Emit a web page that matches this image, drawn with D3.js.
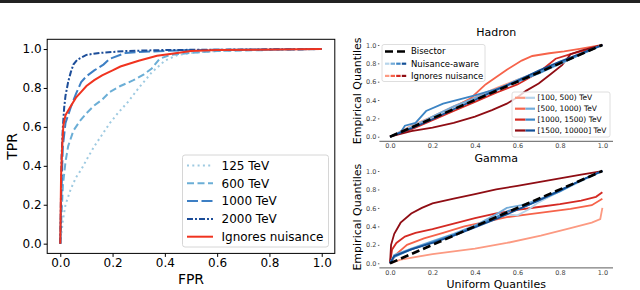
<!DOCTYPE html>
<html>
<head>
<meta charset="utf-8">
<script src="https://cdn.jsdelivr.net/npm/d3@7"></script>
<style>
  body { margin: 0; background: #fff; }
  svg { font-family: "DejaVu Sans", sans-serif; }
</style>
</head>
<body>
<svg class="graph"></svg>
<script>
// ROC curves, [FPR, TPR]
const roc125 = [[0,0],[0.01,0.12],[0.02,0.2],[0.04,0.28],[0.06,0.34],[0.08,0.38],[0.1,0.43],[0.13,0.5],[0.16,0.56],[0.19,0.62],[0.22,0.67],[0.26,0.73],[0.3,0.8],[0.35,0.88],[0.4,0.94],[0.45,0.97],[0.5,0.98],[0.6,0.99],[0.7,0.995],[1,1]];
const roc600 = [[0,0],[0.005,0.15],[0.01,0.3],[0.02,0.42],[0.03,0.5],[0.05,0.58],[0.075,0.63],[0.1,0.67],[0.13,0.71],[0.16,0.74],[0.19,0.78],[0.23,0.81],[0.28,0.84],[0.32,0.87],[0.35,0.9],[0.38,0.95],[0.42,0.97],[0.5,0.98],[0.6,0.99],[1,1]];
const roc1000 = [[0,0],[0.005,0.3],[0.01,0.5],[0.02,0.62],[0.04,0.7],[0.06,0.77],[0.08,0.83],[0.1,0.86],[0.13,0.89],[0.165,0.92],[0.19,0.95],[0.25,0.98],[0.3,0.985],[0.4,0.99],[0.5,0.995],[1,1]];
const roc2000 = [[0,0],[0.005,0.45],[0.01,0.6],[0.015,0.7],[0.02,0.76],[0.03,0.83],[0.04,0.88],[0.05,0.92],[0.065,0.945],[0.1,0.97],[0.15,0.98],[0.25,0.99],[0.4,0.995],[1,1]];
const rocIgnore = [[0,0],[0.003,0.35],[0.008,0.52],[0.012,0.61],[0.02,0.66],[0.037,0.7],[0.06,0.75],[0.08,0.78],[0.1,0.81],[0.13,0.84],[0.16,0.865],[0.2,0.89],[0.23,0.91],[0.3,0.94],[0.37,0.965],[0.42,0.975],[0.5,0.99],[0.6,0.995],[1,1]];

const rocNames = ['125 TeV', '600 TeV', '1000 TeV', '2000 TeV', 'Ignores nuisance'];
const rocTicks = [0, 0.2, 0.4, 0.6, 0.8, 1.0];

// QQ curves, [uniform quantile, empirical quantile]
const binNames = ['[100, 500) TeV', '[500, 1000) TeV', '[1000, 1500) TeV', '[1500, 10000] TeV'];

const hadronRed = [
  [[0,0],[0.1,0.12],[0.2,0.22],[0.3,0.33],[0.4,0.43],[0.5,0.53],[0.6,0.62],[0.7,0.71],[0.8,0.8],[0.9,0.9],[1,1]],
  [[0,0],[0.1,0.1],[0.2,0.2],[0.3,0.32],[0.38,0.42],[0.45,0.57],[0.55,0.73],[0.62,0.83],[0.67,0.88],[0.75,0.91],[0.82,0.93],[0.9,0.96],[1,1]],
  [[0,0],[0.1,0.08],[0.2,0.18],[0.3,0.28],[0.4,0.38],[0.5,0.48],[0.6,0.57],[0.7,0.7],[0.78,0.85],[0.85,0.9],[0.93,0.95],[1,1]],
  [[0,0],[0.05,0.03],[0.1,0.06],[0.2,0.1],[0.3,0.15],[0.4,0.22],[0.48,0.29],[0.55,0.36],[0.6,0.43],[0.64,0.5],[0.7,0.58],[0.75,0.67],[0.81,0.78],[0.85,0.9],[0.9,0.94],[1,1]]
];
const hadronBlue = [
  [[0,0],[0.1,0.11],[0.2,0.21],[0.3,0.31],[0.4,0.41],[0.5,0.5],[0.6,0.6],[0.7,0.69],[0.8,0.79],[0.9,0.9],[1,1]],
  [[0,0],[0.1,0.1],[0.2,0.22],[0.3,0.33],[0.4,0.42],[0.5,0.51],[0.6,0.62],[0.7,0.71],[0.8,0.8],[0.9,0.9],[1,1]],
  [[0,0],[0.05,0.05],[0.07,0.12],[0.12,0.15],[0.17,0.28],[0.25,0.36],[0.3,0.39],[0.4,0.45],[0.5,0.52],[0.6,0.6],[0.7,0.69],[0.8,0.8],[0.9,0.9],[1,1]],
  [[0,0],[0.1,0.09],[0.2,0.19],[0.3,0.3],[0.4,0.4],[0.5,0.51],[0.6,0.61],[0.7,0.72],[0.8,0.82],[0.9,0.91],[1,1]]
];
const gammaRed = [
  [[0,0],[0.05,0.04],[0.2,0.1],[0.4,0.16],[0.55,0.22],[0.71,0.3],[0.85,0.38],[0.95,0.44],[0.99,0.48],[1,0.6]],
  [[0,0],[0.03,0.1],[0.08,0.2],[0.16,0.27],[0.25,0.33],[0.35,0.4],[0.45,0.45],[0.55,0.5],[0.65,0.53],[0.75,0.56],[0.85,0.59],[0.95,0.63],[1,0.7]],
  [[0,0],[0.01,0.15],[0.03,0.22],[0.07,0.29],[0.12,0.33],[0.2,0.37],[0.3,0.43],[0.4,0.49],[0.5,0.54],[0.6,0.58],[0.7,0.61],[0.8,0.64],[0.9,0.68],[0.97,0.72],[1,0.77]],
  [[0,0],[0.005,0.2],[0.02,0.32],[0.05,0.44],[0.1,0.54],[0.15,0.6],[0.2,0.65],[0.3,0.7],[0.4,0.75],[0.5,0.8],[0.6,0.84],[0.7,0.88],[0.8,0.92],[0.9,0.96],[1,1]]
];
const gammaBlue = [
  [[0,0],[0.02,0.08],[0.1,0.15],[0.2,0.23],[0.3,0.31],[0.4,0.4],[0.5,0.5],[0.55,0.53],[0.6,0.52],[0.65,0.58],[0.7,0.66],[0.8,0.78],[0.9,0.89],[1,1]],
  [[0,0],[0.02,0.09],[0.1,0.16],[0.2,0.24],[0.3,0.32],[0.4,0.41],[0.5,0.53],[0.55,0.6],[0.62,0.63],[0.7,0.69],[0.8,0.79],[0.9,0.9],[1,1]],
  [[0,0],[0.02,0.07],[0.1,0.15],[0.2,0.23],[0.3,0.31],[0.4,0.4],[0.5,0.5],[0.56,0.57],[0.62,0.6],[0.7,0.68],[0.8,0.78],[0.9,0.9],[1,1]],
  [[0,0],[0.02,0.08],[0.1,0.15],[0.2,0.22],[0.3,0.3],[0.4,0.39],[0.5,0.48],[0.6,0.58],[0.7,0.68],[0.8,0.79],[0.9,0.9],[1,1]]
];
const qqTicks = [0, 0.2, 0.4, 0.6, 0.8, 1.0];
const bisector = [[0,0],[1,1]];

const rocColors = ['#9ecae1', '#6baed6', '#3d7fc4', '#1c4d99', '#f0331f'];
const rocDash = ['2,3.3', '7,3.5', '11,3.5', '6,2,2,2', null];
const redColors = ['#fc9a82', '#f6634a', '#d42a23', '#8f0d14'];
const blueColors = ['#b6d4ea', '#73abd8', '#3c84c4', '#134f96'];

const width = 640;
const height = 290;
const svg = d3.select('.graph').attr('width', width).attr('height', height);

// black rule at the very top of the figure
svg.append('rect').attr('x', 0).attr('y', 0).attr('width', width).attr('height', 3).attr('fill', '#222');

// ---------- left ROC panel ----------
const x = d3.scaleLinear().domain([-0.05, 1.05]).range([47.2, 334.8]);
const y = d3.scaleLinear().domain([-0.05, 1.05]).range([253.4, 39.3]);
const line = d3.line().x(d => x(d[0])).y(d => y(d[1]));

const left = svg.append('g');
[roc125, roc600, roc1000, roc2000, rocIgnore].forEach((data, i) => {
  left.append('path')
    .attr('d', line(data))
    .attr('fill', 'none')
    .attr('stroke', rocColors[i])
    .attr('stroke-width', 2)
    .attr('stroke-dasharray', rocDash[i]);
});

left.append('rect')
  .attr('x', x(-0.05)).attr('y', y(1.05))
  .attr('width', x(1.05) - x(-0.05)).attr('height', y(-0.05) - y(1.05))
  .attr('fill', 'none').attr('stroke', '#000').attr('stroke-width', 1);

const xAxis = left.append('g')
  .attr('transform', `translate(0,${y(-0.05)})`)
  .call(d3.axisBottom(x).tickValues(rocTicks).tickFormat(d3.format('.1f')).tickSize(3.5).tickPadding(2));
const yAxis = left.append('g')
  .attr('transform', `translate(${x(-0.05)},0)`)
  .call(d3.axisLeft(y).tickValues(rocTicks).tickFormat(d3.format('.1f')).tickSize(3.5).tickPadding(2));
[xAxis, yAxis].forEach(a => {
  a.select('.domain').remove();
  a.selectAll('text').attr('font-size', 12).attr('fill', '#000').attr('font-family', 'DejaVu Sans');
  a.selectAll('line').attr('stroke', '#000');
});

left.append('text').text('FPR')
  .attr('x', x(0.5)).attr('y', 284).attr('text-anchor', 'middle').attr('font-size', 14);
left.append('text').text('TPR')
  .attr('transform', `translate(17,${y(0.5)}) rotate(-90)`)
  .attr('text-anchor', 'middle').attr('font-size', 14);

// legend
const lg = left.append('g');
lg.append('rect').attr('x', 182.5).attr('y', 155).attr('width', 146).attr('height', 92)
  .attr('rx', 2.5).attr('fill', '#fff').attr('fill-opacity', 0.85).attr('stroke', '#d6d6d6');
rocNames.forEach((name, i) => {
  const yy = 165.5 + i * 17.8;
  lg.append('line').attr('x1', 187).attr('x2', 213).attr('y1', yy).attr('y2', yy)
    .attr('stroke', rocColors[i]).attr('stroke-width', 2).attr('stroke-dasharray', rocDash[i]);
  lg.append('text').text(name).attr('x', 221.5).attr('y', yy).attr('dy', '0.35em').attr('font-size', 12);
});

// ---------- right QQ panels ----------
const qx = d3.scaleLinear().domain([-0.05, 1.05]).range([379.4, 613]);

function qqPanel(reds, blues, title, top, bottom, showXLabel) {
  const qy = d3.scaleLinear().domain([-0.05, 1.05]).range([bottom, top]);
  const qline = d3.line().x(d => qx(d[0])).y(d => qy(d[1]));
  const g = svg.append('g');

  reds.forEach((data, i) => {
    g.append('path').attr('d', qline(data)).attr('fill', 'none')
      .attr('stroke', redColors[i]).attr('stroke-width', 1.8);
  });
  blues.forEach((data, i) => {
    g.append('path').attr('d', qline(data)).attr('fill', 'none')
      .attr('stroke', blueColors[i]).attr('stroke-width', 1.8);
  });
  g.append('path').attr('d', qline(bisector)).attr('fill', 'none')
    .attr('stroke', '#000').attr('stroke-width', 2.6).attr('stroke-dasharray', '8,4');

  const ax = g.append('g').attr('transform', `translate(0,${bottom})`)
    .call(d3.axisBottom(qx).tickValues(qqTicks).tickFormat(d3.format('.1f')).tickSize(0).tickPadding(2.5));
  ax.select('.domain').attr('d', `M${qx(-0.05)},0H${qx(1.05)}`).attr('stroke', '#333').attr('stroke-width', 0.8);
  const ay = g.append('g').attr('transform', `translate(${qx(-0.05)},0)`)
    .call(d3.axisLeft(qy).tickValues(qqTicks).tickFormat(d3.format('.1f')).tickSize(1.5).tickPadding(1.5));
  ay.select('.domain').remove();
  [ax, ay].forEach(a => {
    a.selectAll('text').attr('font-size', 6.5).attr('fill', '#444').attr('font-family', 'DejaVu Sans');
    a.selectAll('line').attr('stroke', '#666');
  });

  g.append('text').text(title).attr('x', qx(0.5)).attr('y', top - 4)
    .attr('text-anchor', 'middle').attr('font-size', 11);
  g.append('text').text('Empirical Quantiles')
    .attr('transform', `translate(361,${qy(0.5)}) rotate(-90)`)
    .attr('text-anchor', 'middle').attr('font-size', 11);
  if (showXLabel) {
    g.append('text').text('Uniform Quantiles').attr('x', qx(0.5)).attr('y', 288)
      .attr('text-anchor', 'middle').attr('font-size', 11);
  }
  return { g, qy };
}

const hadron = qqPanel(hadronRed, hadronBlue, 'Hadron', 40.4, 141.3, false);
qqPanel(gammaRed, gammaBlue, 'Gamma', 166.4, 267.9, true);

// hadron legends
const hg = hadron.g;
hg.append('rect').attr('x', 382).attr('y', 44.5).attr('width', 103).attr('height', 37)
  .attr('rx', 2).attr('fill', '#fff').attr('fill-opacity', 0.85).attr('stroke', '#d6d6d6').attr('stroke-width', 0.8);
const styleNames = ['Bisector', 'Nuisance-aware', 'Ignores nuisance'];
styleNames.forEach((name, i) => {
  const yy = 51.5 + i * 12.2;
  if (i === 0) {
    hg.append('line').attr('x1', 385).attr('x2', 407).attr('y1', yy).attr('y2', yy)
      .attr('stroke', '#000').attr('stroke-width', 2.6).attr('stroke-dasharray', '8,4');
  } else {
    const cols = i === 1 ? blueColors : redColors;
    cols.forEach((c, k) => {
      hg.append('line').attr('x1', 385 + k * 5.6).attr('x2', 385 + k * 5.6 + 4.4)
        .attr('y1', yy).attr('y2', yy).attr('stroke', c).attr('stroke-width', 2.2);
    });
  }
  hg.append('text').text(name).attr('x', 411).attr('y', yy).attr('dy', '0.35em').attr('font-size', 8.5);
});

hg.append('rect').attr('x', 512).attr('y', 92).attr('width', 98).attr('height', 45)
  .attr('rx', 2).attr('fill', '#fff').attr('fill-opacity', 0.8).attr('stroke', '#d6d6d6').attr('stroke-width', 0.8);
binNames.forEach((name, i) => {
  const yy = 97.8 + i * 10.9;
  hg.append('line').attr('x1', 515).attr('x2', 525.5).attr('y1', yy).attr('y2', yy)
    .attr('stroke', redColors[i]).attr('stroke-width', 2.2);
  hg.append('line').attr('x1', 525.5).attr('x2', 535).attr('y1', yy).attr('y2', yy)
    .attr('stroke', blueColors[i]).attr('stroke-width', 2.2);
  hg.append('text').text(name).attr('x', 537.5).attr('y', yy).attr('dy', '0.35em').attr('font-size', 7.5);
});
</script>
</body>
</html>
